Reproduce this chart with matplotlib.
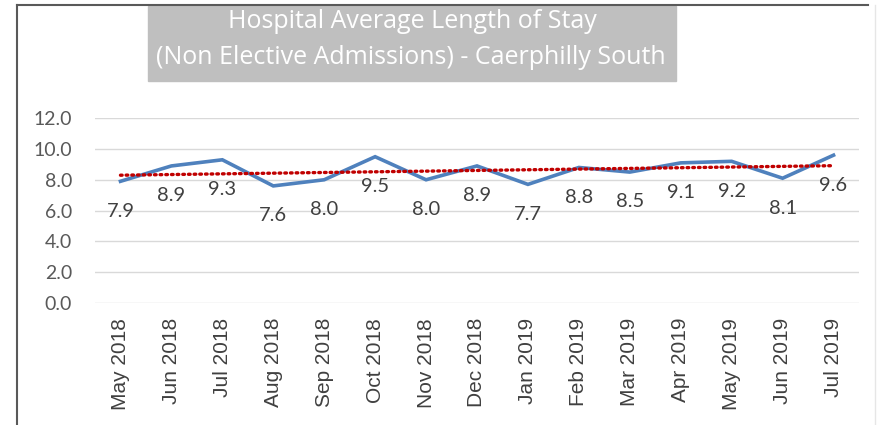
import numpy as np
import matplotlib
matplotlib.use('Agg')
import matplotlib.pyplot as plt
from matplotlib.patches import Rectangle
from matplotlib.lines import Line2D

months = ['May 2018', 'Jun 2018', 'Jul 2018', 'Aug 2018', 'Sep 2018', 'Oct 2018',
          'Nov 2018', 'Dec 2018', 'Jan 2019', 'Feb 2019', 'Mar 2019', 'Apr 2019',
          'May 2019', 'Jun 2019', 'Jul 2019']
avg_stay = [7.9, 8.9, 9.3, 7.6, 8.0, 9.5, 8.0, 8.9, 7.7, 8.8, 8.5, 9.1, 9.2, 8.1, 9.6]
y_ticks = [0, 2, 4, 6, 8, 10, 12]
title_lines = ['Hospital Average Length of Stay',
               '(Non Elective Admissions) - Caerphilly South']

W, H = 877, 425
fig = plt.figure(figsize=(W / 100, H / 100), dpi=100)
ax = fig.add_axes([95 / W, 1 - 302.7 / H, (859 - 95) / W, (302.7 - 118.3) / H])

x = np.arange(len(months))
ax.plot(x, avg_stay, color='#4F81BD', lw=2.6, solid_joinstyle='miter', zorder=3)

# linear trendline
k, b = np.polyfit(x, avg_stay, 1)
ax.plot(x, k * x + b, color='#C00000', lw=2.4, linestyle=(0, (0.5, 1.2)),
        dash_capstyle='round', zorder=4)

for xi, v in zip(x, avg_stay):
    ax.annotate(f'{v:.1f}', (xi, v), xytext=(0, -21.5), textcoords='offset points',
                ha='center', va='center', fontsize=14.5, family='Lato', color='#404040')

ax.set_xlim(-0.5, len(months) - 0.5)
ax.set_ylim(0, 12)
ax.set_yticks(y_ticks)
ax.set_yticklabels([f'{t:.1f}' for t in y_ticks], family='Lato', fontsize=14, color='#595959')
ax.set_xticks(x)
ax.set_xticklabels(months, rotation=90, family='Liberation Sans', fontsize=15, color='#404040')
ax.tick_params(axis='y', length=0, pad=16.5)
ax.tick_params(axis='x', length=0, pad=11)
ax.grid(axis='y', color='#D9D9D9', lw=1)
ax.set_axisbelow(True)
for s in ax.spines.values():
    s.set_visible(False)

# title box
fig.patches.append(Rectangle((148 / W, 1 - 81 / H), (676 - 148) / W, 75 / H,
                             transform=fig.transFigure, color='#BFBFBF', zorder=0))
fig.text(412 / W, 1 - 22 / H, title_lines[0], ha='center', va='center',
         family='Open Sans', fontsize=18, color='white')
fig.text(411 / W, 1 - 57 / H, title_lines[1], ha='center', va='center',
         family='Open Sans', fontsize=18, color='white')

# outer frame
fig.lines.append(Line2D([17 / W, 868 / W], [1 - 5 / H, 1 - 5 / H], transform=fig.transFigure,
                        color='#595959', lw=1.5))
fig.lines.append(Line2D([17 / W, 17 / W], [0, 1 - 5 / H], transform=fig.transFigure,
                        color='#595959', lw=1.5))
fig.lines.append(Line2D([875 / W, 875 / W], [0, 1 - 5 / H], transform=fig.transFigure,
                        color='#E6E6E6', lw=1))

fig.savefig('out.png', dpi=100)
